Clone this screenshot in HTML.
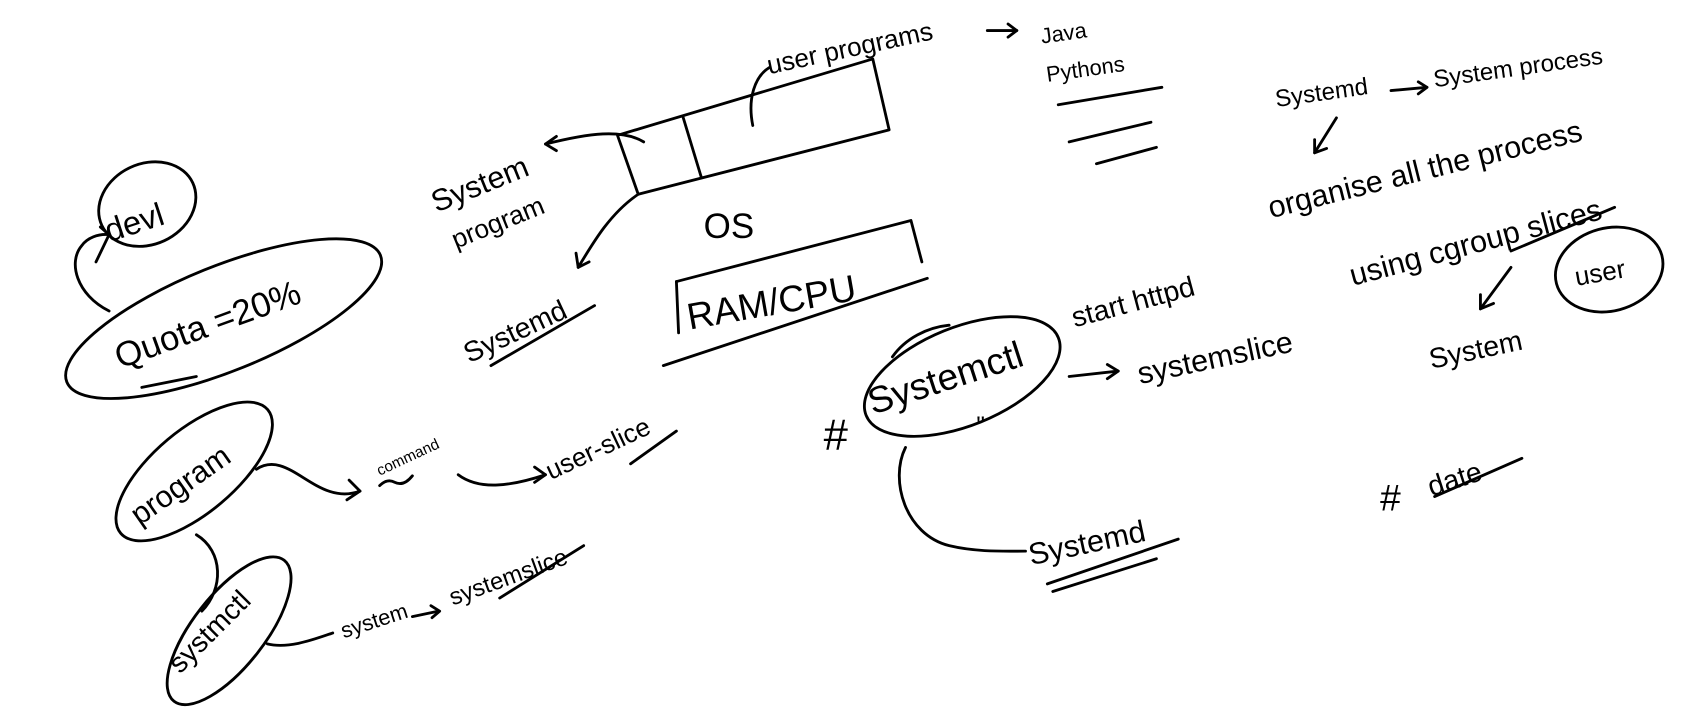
<!DOCTYPE html>
<html><head><style>
html,body{margin:0;padding:0;background:#fff;}
svg{display:block}
text{font-family:"Liberation Sans","DejaVu Sans",sans-serif;fill:#000;}
</style></head><body>
<svg width="1691" height="717" viewBox="0 0 1550 657" preserveAspectRatio="none" xmlns="http://www.w3.org/2000/svg">
<g fill="none" stroke="#000" stroke-width="2.6" stroke-linecap="round" stroke-linejoin="round">
<!-- devl -->
<ellipse cx="135" cy="187" rx="46" ry="37" transform="rotate(-25 135 187)"/>
<path d="M100 285 C70 270 62 240 75 225 C80 218 90 214 100 215"/><path d="M92 208 L100 215 L88 240"/>
<!-- quota -->
<ellipse cx="205" cy="292" rx="155" ry="48" transform="rotate(-22 205 292)"/>
<path d="M180 345 L130 355"/>
<!-- program -->
<ellipse cx="178" cy="432" rx="88" ry="38" transform="rotate(-40 178 432)"/>
<path d="M180 490 C205 505 205 540 185 560"/>
<!-- systemctl -->
<ellipse cx="210" cy="578" rx="82" ry="33" transform="rotate(-52 210 578)"/>
<path d="M235 430 C265 410 290 465 330 450"/><path d="M320 440 L330 450 L318 458"/>
<path d="M348 445 Q355 438 362 442 Q370 446 378 436"/>
<path d="M420 435 C440 450 470 445 500 435"/><path d="M490 428 L500 435 L490 442"/>
<path d="M578 425 L620 395"/>
<path d="M245 590 C265 595 290 585 305 580"/>
<path d="M378 565 L402 560"/><path d="M395 555 L403 560 L396 566"/>
<path d="M458 548 L535 500"/>
<!-- OS box -->
<path d="M566 124 L800 54 L815 119 L585 178 Z"/>
<path d="M626 107 L643 163"/>
<path d="M590 130 C570 118 540 122 500 132"/><path d="M510 125 L500 132 L510 138"/>
<path d="M690 115 C685 90 692 70 705 62"/>
<path d="M585 178 C560 195 545 220 530 245"/><path d="M528 232 L530 245 L540 240"/>
<path d="M450 335 L545 280"/>
<path d="M905 28 L932 28"/><path d="M924 22 L932 28 L924 34"/>
<!-- RAM box -->
<path d="M620 258 L622 305"/><path d="M620 258 L835 202 L845 240"/>
<path d="M608 335 L850 255"/>
<!-- lines -->
<path d="M970 96 L1065 80"/><path d="M980 130 L1055 112"/><path d="M1005 150 L1060 135"/>
<!-- right side -->
<path d="M1275 83 L1308 80"/><path d="M1300 75 L1308 80 L1300 86"/>
<path d="M1225 108 L1205 140"/><path d="M1205 128 L1205 140 L1216 136"/>
<path d="M1385 230 L1480 190"/>
<ellipse cx="1475" cy="247" rx="50" ry="38" transform="rotate(-15 1475 247)"/>
<path d="M1385 245 L1357 283"/><path d="M1357 270 L1357 283 L1369 278"/>
<ellipse cx="882" cy="345" rx="95" ry="45" transform="rotate(-22 882 345)"/>
<path d="M818 327 C830 310 850 300 870 298"/>
<path d="M980 345 L1025 340"/><path d="M1015 334 L1025 340 L1015 347"/>
<path d="M830 410 C815 440 830 490 870 500 C895 506 920 505 940 505"/>
<path d="M960 535 L1080 494"/><path d="M965 542 L1060 512"/>
<path d="M1315 455 L1395 420"/>
</g>
<g font-size="26">
<text x="100" y="222" transform="rotate(-18 100 222)" font-size="30">devl</text>
<text x="110" y="338" transform="rotate(-20 110 338)" font-size="32">Quota =20%</text>
<text x="128" y="482" transform="rotate(-35 128 482)" font-size="28">program</text>
<text x="165" y="618" transform="rotate(-45 165 618)" font-size="26">systmctl</text>
<text x="348" y="436" transform="rotate(-25 348 436)" font-size="14">command</text>
<text x="505" y="440" transform="rotate(-25 505 440)" font-size="24">user-slice</text>
<text x="315" y="585" transform="rotate(-18 315 585)" font-size="20">system</text>
<text x="415" y="555" transform="rotate(-20 415 555)" font-size="22">systemslice</text>
<text x="400" y="195" transform="rotate(-22 400 195)" font-size="28">System</text>
<text x="418" y="228" transform="rotate(-22 418 228)" font-size="24">program</text>
<text x="430" y="333" transform="rotate(-25 430 333)" font-size="26">Systemd</text>
<text x="705" y="68" transform="rotate(-12 705 68)" font-size="24">user programs</text>
<text x="955" y="40" transform="rotate(-8 955 40)" font-size="20">Java</text>
<text x="960" y="75" transform="rotate(-8 960 75)" font-size="20">Pythons</text>
<text x="645" y="218" font-size="32">OS</text>
<text x="632" y="302" transform="rotate(-10 632 302)" font-size="34">RAM/CPU</text>
<text x="1170" y="98" transform="rotate(-8 1170 98)" font-size="22">Systemd</text>
<text x="1315" y="80" transform="rotate(-8 1315 80)" font-size="22">System process</text>
<text x="1165" y="200" transform="rotate(-14 1165 200)" font-size="28">organise all the process</text>
<text x="985" y="300" transform="rotate(-15 985 300)" font-size="26">start httpd</text>
<text x="1240" y="262" transform="rotate(-15 1240 262)" font-size="28">using cgroup slices</text>
<text x="1445" y="262" transform="rotate(-10 1445 262)" font-size="24">user</text>
<text x="1312" y="338" transform="rotate(-12 1312 338)" font-size="26">System</text>
<text x="755" y="412" font-size="40">#</text>
<text x="800" y="380" transform="rotate(-18 800 380)" font-size="34">Systemctl</text>
<text x="895" y="397" font-size="22">"</text>
<text x="1045" y="352" transform="rotate(-12 1045 352)" font-size="28">systemslice</text>
<text x="945" y="518" transform="rotate(-12 945 518)" font-size="28">Systemd</text>
<text x="1265" y="468" font-size="34">#</text>
<text x="1312" y="455" transform="rotate(-18 1312 455)" font-size="26">date</text>
</g>
</svg>
</body></html>
